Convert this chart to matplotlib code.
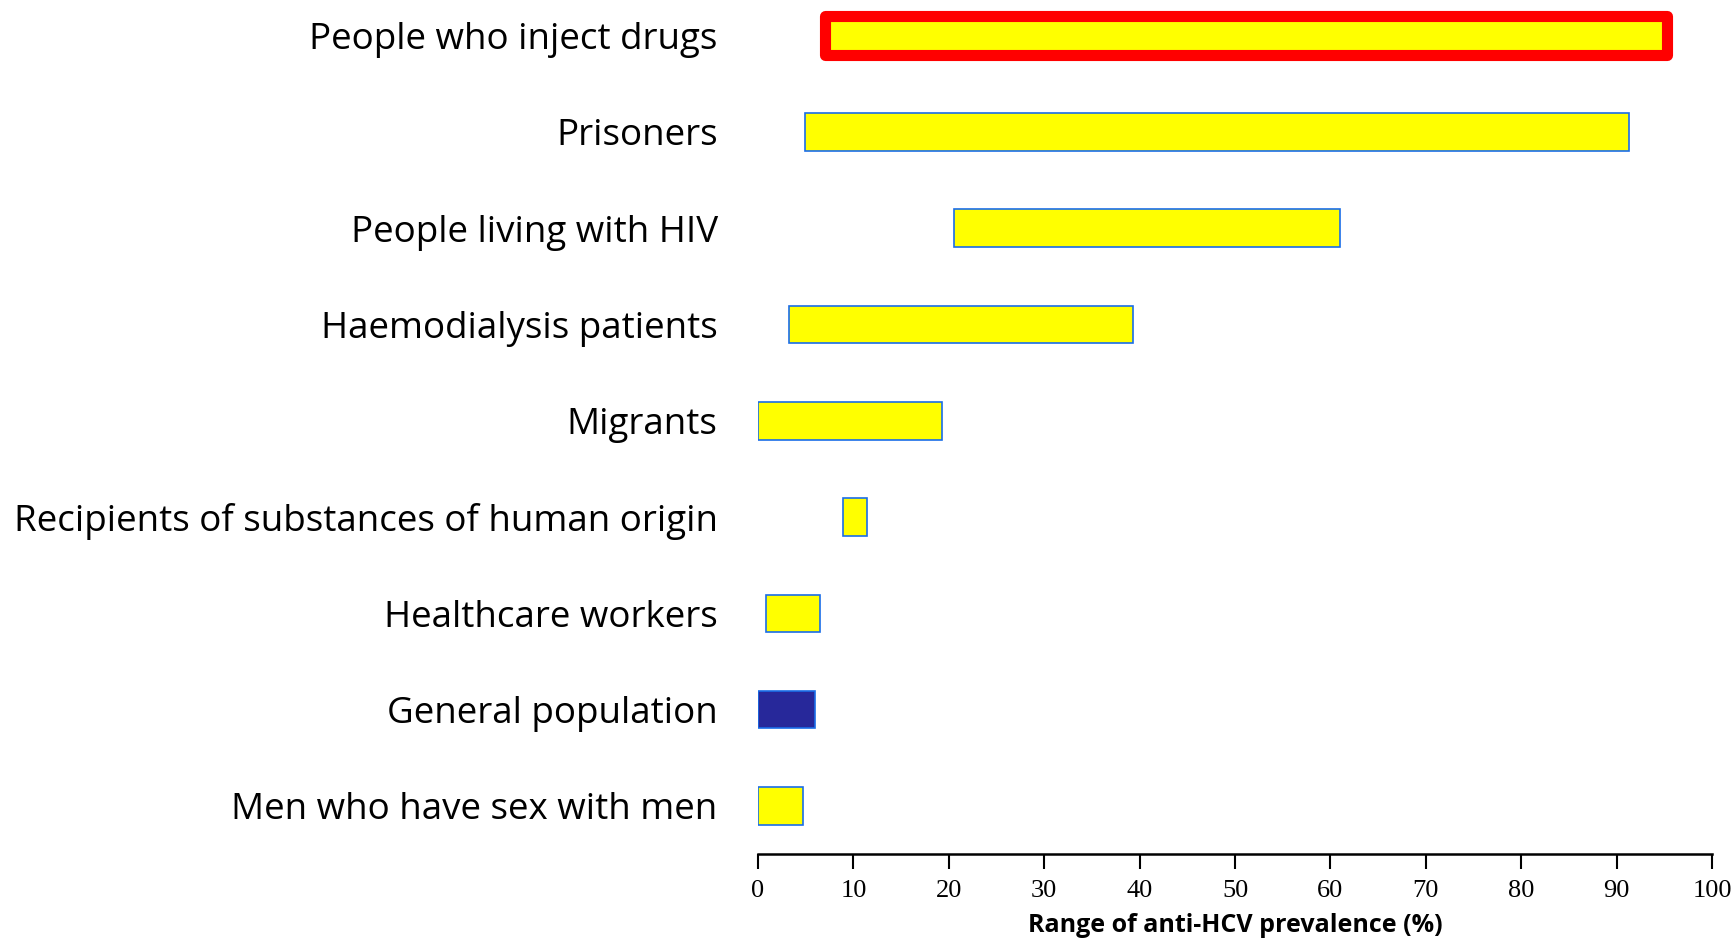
import matplotlib
matplotlib.use("Agg")
import matplotlib.pyplot as plt
import numpy as np

categories = ["People who inject drugs", "Prisoners", "People living with HIV",
              "Haemodialysis patients", "Migrants",
              "Recipients of substances of human origin", "Healthcare workers",
              "General population", "Men who have sex with men"]
low = [7.0, 4.9, 20.5, 3.3, 0.0, 8.9, 0.8, 0.0, 0.0]
high = [95.3, 91.3, 61.0, 39.3, 19.3, 11.4, 6.5, 6.0, 4.7]
xticks = list(range(0, 101, 10))
xlabel = "Range of anti-HCV prevalence (%)"

fig = plt.figure(figsize=(17.32, 9.39), dpi=100)
ax = fig.add_axes([758/1732, 85/939, (1712-758)/1732, 854/939])

n = len(categories)
ypos = np.arange(n)[::-1]
fills = ["#ffff00"] * n
fills[7] = "#27289a"
edges = ["#1a6de8"] * n
lws = [1.2] * n
heights = [0.39] * n
edges[0] = "#ff0000"
lws[0] = 8.0
heights[0] = 0.41

for i in range(n):
    ax.barh(ypos[i], high[i] - low[i], left=low[i], height=heights[i],
            color=fills[i], edgecolor=edges[i], linewidth=lws[i],
            joinstyle="round" if i == 0 else "miter", zorder=3)

ax.set_xlim(0, 100)
ax.set_ylim(-0.5, n - 1 + 0.37)
ax.set_yticks(ypos)
ax.set_yticklabels(categories, fontsize=26.5, fontfamily="Open Sans")
ax.tick_params(axis="y", length=0, pad=29)
ax.set_xticks(xticks)
ax.set_xticklabels([str(t) for t in xticks], fontsize=19, fontfamily="Liberation Serif")
ax.tick_params(axis="x", direction="out", length=11, width=1.5, pad=8, color="black")
for s in ["top", "right", "left"]:
    ax.spines[s].set_visible(False)
ax.spines["bottom"].set_linewidth(1.8)
ax.spines["bottom"].set_color("black")
ax.set_xlabel(xlabel, fontsize=18, fontweight="bold", fontfamily="Open Sans", labelpad=8)

fig.savefig("out.png", dpi=100)
